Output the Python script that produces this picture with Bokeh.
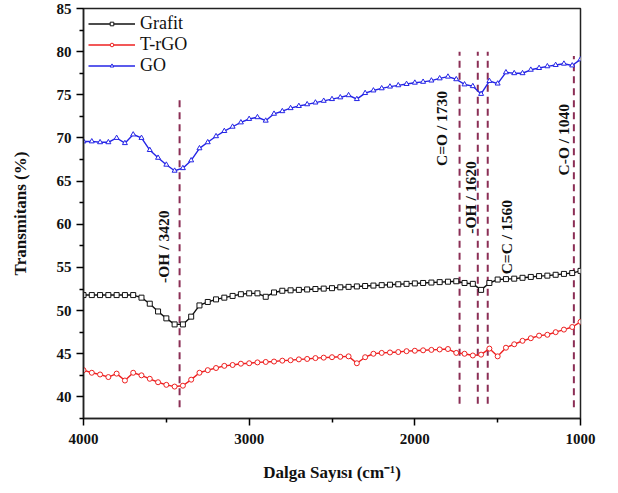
import numpy as np
from bokeh.plotting import figure
from bokeh.models import Range1d, FixedTicker, Legend, LegendItem, ColumnDataSource
from bokeh.core.properties import value
from bokeh.embed import file_html
from bokeh.resources import INLINE

# FTIR spectra, wavenumber in cm^-1 (sampled every 50 cm^-1)
wavenumber = list(range(4000, 999, -50))

grafit = [51.8, 51.8, 51.8, 51.8, 51.8, 51.8, 51.8, 51.5, 50.8, 49.9,
          49.1, 48.4, 48.4, 49.3, 50.6, 51.0, 51.3, 51.5, 51.7, 51.9,
          52.0, 52.0, 51.6, 52.1, 52.3, 52.35, 52.4, 52.45, 52.5, 52.55,
          52.6, 52.7, 52.75, 52.8, 52.85, 52.9, 52.95, 53.0, 53.05, 53.1,
          53.15, 53.2, 53.25, 53.3, 53.35, 53.4, 53.2, 53.1, 52.4, 53.2,
          53.6, 53.65, 53.7, 53.8, 53.9, 54.0, 54.05, 54.15, 54.25, 54.35,
          54.6]

trgo = [43.1, 42.8, 42.6, 42.3, 42.7, 41.9, 42.8, 42.5, 42.1, 41.7,
        41.4, 41.2, 41.3, 42.0, 42.8, 43.1, 43.35, 43.6, 43.7, 43.85,
        43.9, 44.0, 44.05, 44.1, 44.2, 44.25, 44.35, 44.4, 44.5, 44.55,
        44.6, 44.65, 44.7, 43.9, 44.6, 45.0, 45.1, 45.15, 45.2, 45.3,
        45.35, 45.4, 45.45, 45.5, 45.55, 45.1, 45.0, 44.8, 44.9, 45.6,
        44.7, 45.7, 46.1, 46.5, 46.8, 47.1, 47.2, 47.5, 47.8, 48.1,
        48.7]

go = [69.6, 69.6, 69.5, 69.5, 70.0, 69.4, 70.4, 70.0, 68.6, 67.7,
      66.9, 66.2, 66.5, 67.4, 68.8, 69.5, 70.2, 70.8, 71.3, 71.8,
      72.2, 72.4, 72.0, 72.8, 73.1, 73.45, 73.7, 73.9, 74.1, 74.3,
      74.5, 74.7, 74.95, 74.5, 75.2, 75.5, 75.75, 75.95, 76.1, 76.25,
      76.4, 76.5, 76.65, 76.9, 77.1, 76.8, 76.2, 76.0, 75.1, 76.6,
      76.3, 77.6, 77.5, 77.5, 77.9, 78.1, 78.3, 78.45, 78.6, 78.4,
      79.1]

# Band assignments: marker line position, vertical extent, label
band_pos = [3420, 1730, 1620, 1560, 1040]
band_bottom = [38.8, 39.2, 39.2, 39.2, 38.8]
band_top = [74.5, 80.0, 80.0, 80.0, 79.5]
band_labels = ["-OH / 3420", "C=O / 1730", "-OH / 1620", "C=C / 1560", "C-O / 1040"]
label_x = [3515, 1842, 1661, 1448, 1103]
label_y = [57.4, 71.1, 63.1, 58.5, 69.8]

x_ticks = [4000, 3000, 2000, 1000]
y_ticks = [40, 45, 50, 55, 60, 65, 70, 75, 80, 85]

SERIF = "Liberation Serif"

p = figure(width=618, height=493, output_backend="svg", toolbar_location=None,
           x_range=Range1d(4000, 1000), y_range=Range1d(37.5, 85),
           min_border_left=83, min_border_right=38, min_border_top=8,
           min_border_bottom=75, background_fill_color="white",
           border_fill_color="white")
p.xgrid.visible = False
p.ygrid.visible = False
p.outline_line_color = "#222222"
p.outline_line_width = 1.5

# dashed band markers
p.segment(x0=band_pos, x1=band_pos, y0=band_bottom, y1=band_top,
          line_color="#8B2E55", line_width=2, line_dash="7 5")

series = [("Grafit", grafit, "#111111", "square"),
          ("T-rGO", trgo, "#EE2020", "circle"),
          ("GO", go, "#2424E6", "triangle")]
items = []
for name, vals, col, mk in series:
    src = ColumnDataSource(dict(x=wavenumber, y=vals))
    ln = p.line("x", "y", source=src, line_color=col, line_width=1.4)
    sc = p.scatter("x", "y", source=src, marker=mk, size=5,
                   line_color=col, fill_color="white", line_width=1)
    items.append(LegendItem(label=name, renderers=[ln, sc]))

p.text(x=label_x, y=label_y, text=band_labels, angle=np.pi / 2,
       text_align="center", text_baseline="middle",
       text_font=value(SERIF), text_font_style="bold",
       text_font_size="15.5px", text_color="#111111")

legend = Legend(items=items, location=(5, 342), orientation="vertical",
                glyph_width=47, glyph_height=9, label_height=20,
                spacing=0, padding=0, margin=0, label_standoff=5,
                border_line_alpha=0, background_fill_alpha=0,
                label_text_font=SERIF, label_text_font_size="18px",
                label_text_color="#111111")
p.add_layout(legend)

for ax in (p.xaxis[0], p.yaxis[0]):
    ax.axis_line_width = 1.5
    ax.axis_line_color = "#222222"
    ax.major_tick_line_width = 1.5
    ax.minor_tick_line_width = 1.5
    ax.major_tick_out = 7
    ax.major_tick_in = 0
    ax.minor_tick_out = 4
    ax.minor_tick_in = 0
    ax.major_label_text_font = SERIF
    ax.major_label_text_font_style = "bold"
    ax.major_label_text_font_size = "15px"
    ax.major_label_text_color = "#111111"
    ax.axis_label_text_font = SERIF
    ax.axis_label_text_font_style = "bold"
    ax.axis_label_text_font_size = "17px"
    ax.axis_label_text_color = "#111111"

p.xaxis[0].ticker = FixedTicker(ticks=x_ticks, minor_ticks=[3500, 2500, 1500])
p.yaxis[0].ticker = FixedTicker(ticks=y_ticks,
                                minor_ticks=[37.5, 42.5, 47.5, 52.5, 57.5, 62.5,
                                             67.5, 72.5, 77.5, 82.5])
p.xaxis[0].axis_label = "Dalga Sayısı (cm\u207B\u00B9)"
p.yaxis[0].axis_label = "Transmitans (%)"
p.xaxis[0].major_label_standoff = 8
p.xaxis[0].axis_label_standoff = 16
p.yaxis[0].major_label_standoff = 5
p.yaxis[0].axis_label_standoff = 24

open("out.html", "w").write(file_html(p, INLINE))
